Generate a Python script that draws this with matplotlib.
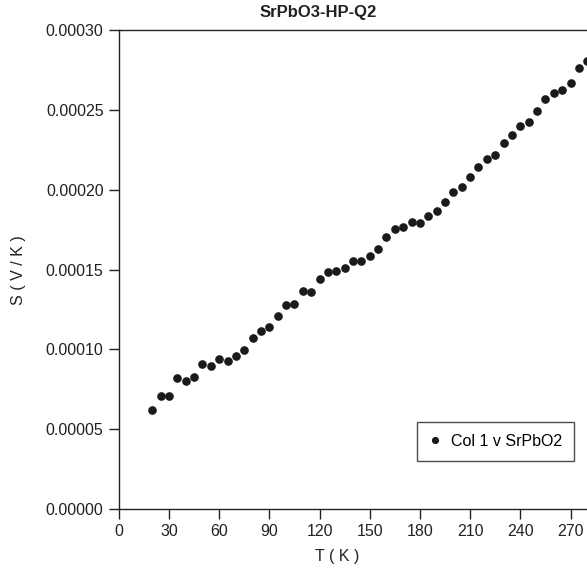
import matplotlib
matplotlib.use("Agg")
import matplotlib.pyplot as plt
from matplotlib.ticker import FormatStrFormatter

plt.rcParams['font.family'] = ['Liberation Sans', 'DejaVu Sans']

# temperature (K) and thermopower S (V/K)
temp_k = [20, 25, 30, 35, 40, 45, 50, 55, 60, 65, 70, 75,
          80, 85, 90, 95, 100, 105, 110, 115, 120, 125, 130, 135,
          140, 145, 150, 155, 160, 165, 170, 175, 180, 185, 190, 195,
          200, 205, 210, 215, 220, 225, 230, 235, 240, 245, 250,
          255, 260, 265, 270, 275, 280]
seebeck = [0.0000620, 0.0000710, 0.0000710, 0.0000822, 0.0000802, 0.0000825,
           0.0000908, 0.0000894, 0.0000938, 0.0000925, 0.0000956, 0.0000996,
           0.0001069, 0.0001117, 0.0001142, 0.0001209, 0.0001276, 0.0001284,
           0.0001367, 0.0001357, 0.0001439, 0.0001482, 0.0001491, 0.0001509,
           0.0001551, 0.0001553, 0.0001583, 0.0001628, 0.0001705, 0.0001754,
           0.0001764, 0.0001799, 0.0001791, 0.0001837, 0.0001865, 0.0001925,
           0.0001987, 0.0002019, 0.0002081, 0.0002144, 0.0002190, 0.0002219,
           0.0002290, 0.0002342, 0.0002401, 0.0002424, 0.0002491,
           0.0002568, 0.0002607, 0.0002624, 0.0002670, 0.0002764, 0.0002808]

x_ticks = [0, 30, 60, 90, 120, 150, 180, 210, 240, 270]
y_ticks = [0.0, 0.00005, 0.00010, 0.00015, 0.00020, 0.00025, 0.00030]

W, H = 587, 575
fig = plt.figure(figsize=(W / 100, H / 100), dpi=100)

# axes run past the right edge of the picture, like the cropped original
x_max = 300
px_per_k = 1.673
left = 118.8 / W
bottom = (H - 509) / H
top = 30 / H
ax = fig.add_axes([left, bottom, x_max * px_per_k / W, 1 - bottom - top])

ax.plot(temp_k, seebeck, linestyle='none', marker='o', markersize=5.2,
        color='#1a1a1a', label='Col 1 v SrPbO2')

ax.set_xlim(0, x_max)
ax.set_ylim(0, 0.0003)
ax.set_xticks(x_ticks)
ax.set_yticks(y_ticks)
ax.yaxis.set_major_formatter(FormatStrFormatter('%.5f'))
ax.tick_params(direction='out', length=7, width=1, labelsize=11.5,
               colors='#222222', pad=4)
for s in ax.spines.values():
    s.set_linewidth(1)
    s.set_color('#222222')

fig.text(318 / W, 1 - 12 / H, 'SrPbO3-HP-Q2', ha='center', va='center',
         fontsize=12, fontweight='bold', color='#222222')
fig.text(337 / W, 1 - 556 / H, 'T ( K )', ha='center', va='center',
         fontsize=11.5, color='#222222')
fig.text(18 / W, 1 - 270 / H, 'S ( V / K )', ha='center', va='center',
         rotation=90, fontsize=11.5, color='#222222')

leg = ax.legend(loc='upper left', bbox_to_anchor=(417 / W, 1 - 422 / H),
                bbox_transform=fig.transFigure, fancybox=False,
                edgecolor='#222222', fontsize=11.5, handlelength=0.8,
                handletextpad=0.6, borderpad=0.75, markerscale=0.8,
                borderaxespad=0)
leg.get_frame().set_linewidth(1)

fig.savefig('out.png', dpi=100)
